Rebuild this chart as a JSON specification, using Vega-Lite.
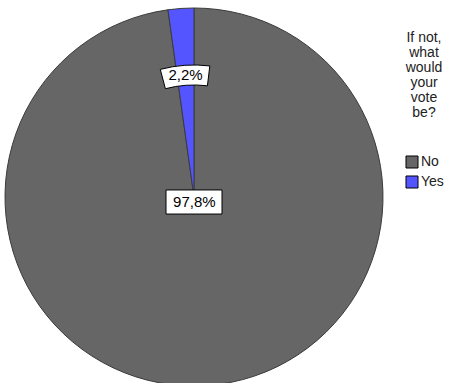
{
  "$schema": "https://vega.github.io/schema/vega-lite/v6.json",
  "width": 388,
  "height": 394,
  "padding": 0,
  "autosize": "pad",
  "background": "white",
  "view": {"stroke": null},
  "data": {
    "values": [
      {"answer": "No", "pct": 97.8, "label": "97,8%"},
      {"answer": "Yes", "pct": 2.2, "label": "2,2%"}
    ]
  },
  "layer": [
    {
      "mark": {"type": "arc", "outerRadius": 189, "stroke": "#3a3a3a", "strokeWidth": 1},
      "encoding": {
        "theta": {"field": "pct", "type": "quantitative", "stack": true},
        "order": {"field": "answer", "type": "ordinal"},
        "color": {
          "field": "answer",
          "type": "nominal",
          "scale": {"domain": ["No", "Yes"], "range": ["#666666", "#5555ff"]},
          "legend": {
            "title": ["If not,", "what", "would", "your", "vote", "be?"],
            "orient": "none",
            "legendX": 405,
            "legendY": 31,
            "padding": 0,
            "titleAlign": "center",
            "titleAnchor": "middle",
            "titleFont": "Liberation Sans",
            "titleFontSize": 14,
            "titleFontWeight": "normal",
            "titleColor": "#222222",
            "titleLineHeight": 15,
            "titlePadding": 35,
            "labelFont": "Liberation Sans",
            "labelFontSize": 14,
            "labelColor": "#222222",
            "labelOffset": 2,
            "symbolType": "square",
            "symbolSize": 144,
            "symbolStrokeColor": "black",
            "symbolStrokeWidth": 1,
            "symbolOpacity": 1,
            "rowPadding": 4
          }
        }
      }
    },
    {
      "transform": [
        {"stack": "pct", "groupby": [], "sort": [{"field": "answer", "order": "ascending"}], "as": ["pct_lo", "pct_hi"]}
      ],
      "mark": {"type": "arc", "innerRadius": 112, "outerRadius": 132, "thetaOffset": -0.12, "theta2Offset": 0.12, "fill": "white", "stroke": "black", "strokeWidth": 1},
      "encoding": {
        "theta": {"field": "pct_lo", "type": "quantitative"},
        "theta2": {"field": "pct_hi"},
        "opacity": {"condition": {"test": "datum.answer === 'Yes'", "value": 1}, "value": 0}
      }
    },
    {
      "mark": {"type": "point", "shape": "M-1,-0.43H1V0.43H-1Z", "size": 3136, "filled": true, "fill": "white", "stroke": "black", "strokeWidth": 1, "yOffset": 5},
      "encoding": {
        "opacity": {"condition": {"test": "datum.answer === 'No'", "value": 1}, "value": 0}
      }
    },
    {
      "mark": {"type": "text", "font": "Liberation Sans", "fontSize": 15, "fill": "black", "align": "center", "baseline": "middle", "radius": 122},
      "encoding": {
        "theta": {"field": "pct", "type": "quantitative", "stack": true},
        "order": {"field": "answer", "type": "ordinal"},
        "detail": {"field": "answer", "type": "nominal"},
        "text": {"condition": {"test": "datum.answer === 'Yes'", "field": "label"}, "value": ""}
      }
    },
    {
      "mark": {"type": "text", "font": "Liberation Sans", "fontSize": 15, "fill": "black", "align": "center", "baseline": "middle", "radius": 5},
      "encoding": {
        "theta": {"field": "pct", "type": "quantitative", "stack": true},
        "order": {"field": "answer", "type": "ordinal"},
        "detail": {"field": "answer", "type": "nominal"},
        "text": {"condition": {"test": "datum.answer === 'No'", "field": "label"}, "value": ""}
      }
    }
  ]
}
